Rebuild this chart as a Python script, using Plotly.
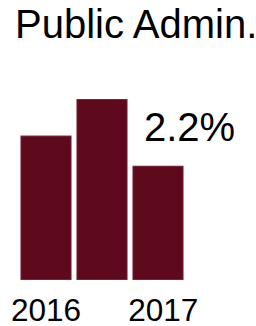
import plotly.graph_objects as go

categories = ["2016", "2016b", "2017"]
values = [2.78, 3.49, 2.2]
tick_labels = ["2016", "", "\u20042017"]
title_text = "Public Admin."
annotation_text = "2.2%"

bar_color = "#5e0a1c"
font_family = "Liberation Sans, Arial, sans-serif"

fig = go.Figure(
    go.Bar(
        x=categories,
        y=values,
        marker=dict(color=bar_color, line=dict(color="rgba(170,100,120,0.8)", width=0.8)),
        hoverinfo="skip",
    )
)

fig.update_layout(
    width=256,
    height=326,
    margin=dict(l=18, r=70, t=99, b=46, autoexpand=False),
    paper_bgcolor="white",
    plot_bgcolor="white",
    bargap=0.095,
    showlegend=False,
    font=dict(family=font_family, color="black"),
    title=dict(
        text=title_text,
        font=dict(size=40, family=font_family, color="black"),
        x=15 / 256,
        xanchor="left",
        xref="container",
        y=1 - 24 / 326,
        yanchor="middle",
        yref="container",
    ),
    xaxis=dict(
        type="category",
        tickmode="array",
        tickvals=categories,
        ticktext=tick_labels,
        tickfont=dict(size=31.5, family=font_family, color="black"),
        ticklabelstandoff=8,
        showgrid=False,
        showline=False,
        zeroline=False,
        ticks="",
        automargin=False,
    ),
    yaxis=dict(
        range=[0, max(values)],
        visible=False,
        showgrid=False,
        zeroline=False,
        automargin=False,
    ),
    annotations=[
        dict(
            text=annotation_text,
            xref="paper",
            yref="paper",
            x=0.738,
            y=0.847,
            xanchor="left",
            yanchor="middle",
            showarrow=False,
            font=dict(size=40, family=font_family, color="black"),
        )
    ],
)

fig.write_html(
    "out.html",
    config={"displayModeBar": False, "staticPlot": True},
    post_script="document.body.style.margin='0';document.body.style.overflow='hidden';",
)
